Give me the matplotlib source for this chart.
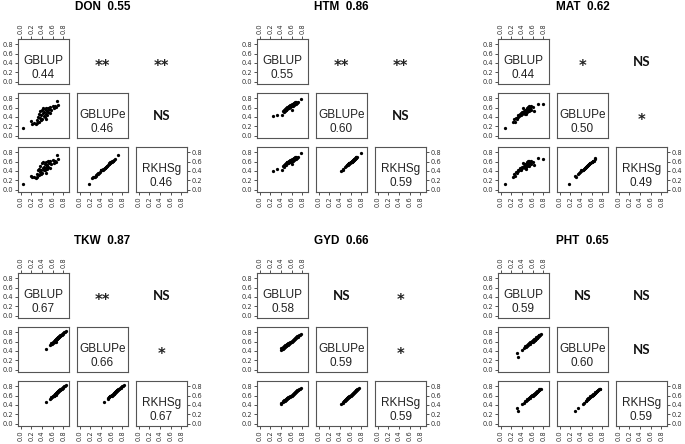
import numpy as np
import matplotlib
matplotlib.use('Agg')
import matplotlib.pyplot as plt

# traits, heritability and model names
traits = ['DON', 'HTM', 'MAT', 'TKW', 'GYD', 'PHT']
herit = [0.55, 0.86, 0.62, 0.87, 0.66, 0.65]
models = ['GBLUP', 'GBLUPe', 'RKHSg']

# mean accuracy per model (diagonal)
acc_mean = {
    'DON': [0.44, 0.46, 0.46],
    'HTM': [0.55, 0.60, 0.59],
    'MAT': [0.44, 0.50, 0.49],
    'TKW': [0.67, 0.66, 0.67],
    'GYD': [0.58, 0.59, 0.59],
    'PHT': [0.59, 0.60, 0.59],
}

# significance of pairwise tests: (GBLUP,GBLUPe), (GBLUP,RKHSg), (GBLUPe,RKHSg)
signif = {
    'DON': ['**', '**', 'NS'],
    'HTM': ['**', '**', 'NS'],
    'MAT': ['*', 'NS', '*'],
    'TKW': ['**', 'NS', '*'],
    'GYD': ['NS', '*', '*'],
    'PHT': ['NS', 'NS', 'NS'],
}

# accuracies per replicate
don_gblup = [0.05, 0.20, 0.22, 0.25, 0.28, 0.30, 0.31, 0.33, 0.34, 0.35, 0.36, 0.37, 0.38, 0.39, 0.40, 0.41, 0.42, 0.42, 0.43, 0.44,
             0.45, 0.46, 0.47, 0.48, 0.49, 0.50, 0.51, 0.52, 0.53, 0.55, 0.56, 0.58, 0.60, 0.62, 0.64, 0.66, 0.68, 0.70, 0.47, 0.50]
don_gblupe = [0.17, 0.31, 0.25, 0.28, 0.24, 0.34, 0.27, 0.40, 0.30, 0.46, 0.38, 0.52, 0.33, 0.44, 0.55, 0.36, 0.48, 0.58, 0.42, 0.50,
              0.56, 0.40, 0.59, 0.47, 0.53, 0.44, 0.60, 0.50, 0.57, 0.48, 0.62, 0.55, 0.64, 0.58, 0.63, 0.61, 0.73, 0.66, 0.35, 0.52]
don_rkhsg = [0.13, 0.30, 0.26, 0.27, 0.25, 0.33, 0.28, 0.41, 0.31, 0.45, 0.37, 0.51, 0.34, 0.43, 0.56, 0.36, 0.47, 0.59, 0.41, 0.49,
             0.55, 0.41, 0.58, 0.46, 0.52, 0.45, 0.61, 0.49, 0.56, 0.47, 0.61, 0.54, 0.63, 0.57, 0.62, 0.60, 0.75, 0.65, 0.36, 0.51]

htm_gblup = [0.25, 0.33, 0.42, 0.44, 0.45, 0.46, 0.47, 0.48, 0.49, 0.50, 0.50, 0.51, 0.52, 0.52, 0.53, 0.54, 0.54, 0.55, 0.56, 0.56,
             0.57, 0.58, 0.58, 0.59, 0.60, 0.60, 0.61, 0.62, 0.62, 0.63, 0.64, 0.64, 0.65, 0.66, 0.67, 0.68, 0.69, 0.70, 0.72, 0.78]
htm_gblupe = [0.42, 0.45, 0.45, 0.52, 0.50, 0.55, 0.53, 0.57, 0.54, 0.58, 0.55, 0.60, 0.57, 0.61, 0.58, 0.62, 0.59, 0.63, 0.60, 0.64,
              0.61, 0.65, 0.62, 0.66, 0.55, 0.64, 0.67, 0.63, 0.68, 0.65, 0.69, 0.66, 0.70, 0.67, 0.71, 0.68, 0.72, 0.70, 0.71, 0.79]
htm_rkhsg = [0.39, 0.44, 0.43, 0.50, 0.49, 0.53, 0.52, 0.55, 0.53, 0.56, 0.54, 0.58, 0.56, 0.59, 0.57, 0.60, 0.57, 0.61, 0.59, 0.62,
             0.60, 0.63, 0.60, 0.64, 0.54, 0.62, 0.65, 0.61, 0.66, 0.63, 0.67, 0.64, 0.68, 0.65, 0.69, 0.66, 0.70, 0.68, 0.69, 0.79]

mat_gblup = [0.08, 0.24, 0.26, 0.27, 0.29, 0.30, 0.32, 0.33, 0.35, 0.36, 0.37, 0.38, 0.39, 0.40, 0.41, 0.42, 0.43, 0.44, 0.45, 0.46,
             0.47, 0.48, 0.49, 0.50, 0.50, 0.51, 0.52, 0.53, 0.53, 0.54, 0.55, 0.56, 0.57, 0.58, 0.60, 0.62, 0.70, 0.79, 0.45, 0.48]
mat_gblupe = [0.17, 0.30, 0.35, 0.29, 0.38, 0.36, 0.40, 0.44, 0.41, 0.47, 0.45, 0.48, 0.43, 0.50, 0.47, 0.58, 0.49, 0.52, 0.47, 0.55,
              0.50, 0.53, 0.60, 0.51, 0.56, 0.62, 0.54, 0.58, 0.64, 0.52, 0.60, 0.57, 0.63, 0.55, 0.61, 0.53, 0.67, 0.67, 0.51, 0.46]
mat_rkhsg = [0.12, 0.28, 0.34, 0.29, 0.37, 0.35, 0.40, 0.43, 0.41, 0.46, 0.44, 0.47, 0.43, 0.49, 0.46, 0.57, 0.48, 0.51, 0.46, 0.54,
             0.49, 0.52, 0.59, 0.50, 0.55, 0.61, 0.53, 0.57, 0.62, 0.51, 0.59, 0.56, 0.61, 0.54, 0.60, 0.52, 0.67, 0.65, 0.50, 0.45]

tkw_gblup = [0.48, 0.55, 0.57, 0.58, 0.59, 0.60, 0.61, 0.62, 0.62, 0.63, 0.64, 0.64, 0.65, 0.65, 0.66, 0.66, 0.67, 0.67, 0.68, 0.68,
             0.69, 0.69, 0.70, 0.70, 0.71, 0.71, 0.72, 0.72, 0.73, 0.74, 0.74, 0.75, 0.76, 0.77, 0.78, 0.79, 0.80, 0.82, 0.84, 0.85]
tkw_gblupe = [0.45, 0.53, 0.54, 0.56, 0.55, 0.58, 0.57, 0.60, 0.58, 0.61, 0.60, 0.63, 0.62, 0.64, 0.60, 0.65, 0.64, 0.66, 0.65, 0.67,
              0.66, 0.68, 0.67, 0.69, 0.68, 0.70, 0.69, 0.71, 0.70, 0.72, 0.71, 0.73, 0.74, 0.74, 0.76, 0.77, 0.78, 0.80, 0.81, 0.83]
tkw_rkhsg = [0.46, 0.53, 0.55, 0.56, 0.56, 0.58, 0.58, 0.60, 0.59, 0.61, 0.61, 0.63, 0.62, 0.64, 0.61, 0.65, 0.64, 0.66, 0.66, 0.67,
             0.67, 0.68, 0.68, 0.69, 0.69, 0.70, 0.70, 0.71, 0.71, 0.72, 0.72, 0.73, 0.74, 0.75, 0.76, 0.77, 0.78, 0.80, 0.81, 0.83]

gyd_gblup = [0.40, 0.41, 0.43, 0.44, 0.45, 0.46, 0.47, 0.48, 0.49, 0.50, 0.50, 0.51, 0.52, 0.52, 0.53, 0.53, 0.54, 0.55, 0.55, 0.56,
             0.57, 0.58, 0.59, 0.60, 0.61, 0.62, 0.63, 0.64, 0.65, 0.66, 0.67, 0.68, 0.69, 0.70, 0.71, 0.72, 0.73, 0.74, 0.76, 0.78]
gyd_gblupe = [0.42, 0.46, 0.45, 0.48, 0.47, 0.50, 0.49, 0.52, 0.50, 0.53, 0.51, 0.54, 0.52, 0.55, 0.53, 0.56, 0.54, 0.57, 0.55, 0.57,
              0.56, 0.58, 0.60, 0.59, 0.62, 0.61, 0.64, 0.63, 0.66, 0.65, 0.68, 0.67, 0.70, 0.69, 0.71, 0.70, 0.72, 0.73, 0.74, 0.76]
gyd_rkhsg = [0.43, 0.45, 0.46, 0.48, 0.48, 0.50, 0.49, 0.51, 0.51, 0.53, 0.52, 0.54, 0.53, 0.55, 0.54, 0.56, 0.55, 0.56, 0.56, 0.57,
             0.57, 0.58, 0.60, 0.60, 0.62, 0.62, 0.64, 0.63, 0.66, 0.66, 0.68, 0.67, 0.70, 0.70, 0.71, 0.71, 0.72, 0.74, 0.75, 0.77]

pht_gblup = [0.30, 0.33, 0.40, 0.44, 0.46, 0.48, 0.49, 0.50, 0.51, 0.52, 0.53, 0.54, 0.55, 0.55, 0.56, 0.57, 0.58, 0.59, 0.60, 0.60,
             0.61, 0.62, 0.63, 0.63, 0.64, 0.65, 0.65, 0.66, 0.67, 0.67, 0.68, 0.69, 0.69, 0.70, 0.71, 0.72, 0.72, 0.73, 0.74, 0.75]
pht_gblupe = [0.35, 0.28, 0.43, 0.46, 0.50, 0.49, 0.52, 0.51, 0.54, 0.53, 0.55, 0.56, 0.54, 0.58, 0.57, 0.59, 0.58, 0.62, 0.60, 0.63,
              0.61, 0.64, 0.62, 0.65, 0.64, 0.66, 0.63, 0.67, 0.66, 0.69, 0.68, 0.70, 0.67, 0.71, 0.70, 0.72, 0.74, 0.73, 0.75, 0.76]
pht_rkhsg = [0.34, 0.28, 0.43, 0.45, 0.49, 0.48, 0.52, 0.51, 0.53, 0.53, 0.55, 0.55, 0.54, 0.57, 0.57, 0.58, 0.58, 0.61, 0.60, 0.62,
             0.61, 0.63, 0.62, 0.64, 0.64, 0.65, 0.63, 0.66, 0.66, 0.68, 0.68, 0.69, 0.67, 0.70, 0.70, 0.71, 0.73, 0.72, 0.74, 0.75]

acc = {
    'DON': [don_gblup, don_gblupe, don_rkhsg],
    'HTM': [htm_gblup, htm_gblupe, htm_rkhsg],
    'MAT': [mat_gblup, mat_gblupe, mat_rkhsg],
    'TKW': [tkw_gblup, tkw_gblupe, tkw_rkhsg],
    'GYD': [gyd_gblup, gyd_gblupe, gyd_rkhsg],
    'PHT': [pht_gblup, pht_gblupe, pht_rkhsg],
}

W, H = 685, 444
ticks = [0.0, 0.2, 0.4, 0.6, 0.8]
lims = (-0.05, 0.91)
frame_col = '#555555'
tick_col = '#333333'


def px_axes(fig, x, y, w, h):
    # add axes using pixel coords from top-left corner
    return fig.add_axes([x / W, 1 - (y + h) / H, w / W, h / H])


def draw_pairs(fig, x0, y0, trait, h2):
    cw, ch = 51, 45   # cell size in px
    px, py = 59, 54   # cell pitch in px
    vals = acc[trait]
    sig = signif[trait]
    k = 0
    for i in range(3):
        for j in range(3):
            ax = px_axes(fig, x0 + j * px, y0 + i * py, cw, ch)
            ax.set_xlim(lims)
            ax.set_ylim(lims)
            ax.set_xticks(ticks)
            ax.set_yticks(ticks)
            ax.tick_params(length=2.2, width=0.6, color=tick_col, labelcolor=tick_col,
                           labelsize=4.8, pad=1.2,
                           bottom=False, labelbottom=False, left=False, labelleft=False)
            ax.xaxis.set_major_formatter(matplotlib.ticker.FormatStrFormatter('%.1f'))
            ax.yaxis.set_major_formatter(matplotlib.ticker.FormatStrFormatter('%.1f'))
            for s in ax.spines.values():
                s.set_color(frame_col)
                s.set_linewidth(0.8)

            if j > i:
                # upper triangle: significance only
                ax.axis('off')
                if '*' in sig[k]:
                    ax.text(0.5, 0.40, sig[k], transform=ax.transAxes, ha='center', va='center',
                            fontsize=10.5, fontweight='bold', family='DejaVu Sans', color='#222222')
                else:
                    ax.text(0.5, 0.5, sig[k], transform=ax.transAxes, ha='center', va='center',
                            fontsize=9.5, fontweight='bold', family='Lato', color='#111111')
                k += 1
                continue

            if i == j:
                ax.text(0.5, 0.52, models[i], transform=ax.transAxes, ha='center', va='center',
                        fontsize=8.5, family='Liberation Sans', color='#222222')
                ax.text(0.5, 0.21, '%.2f' % acc_mean[trait][i], transform=ax.transAxes,
                        ha='center', va='center', fontsize=8.5, family='Liberation Sans', color='#222222')
            else:
                ax.scatter(vals[j], vals[i], s=5.5, c='black', linewidths=0)

            if j == 0:
                ax.tick_params(left=True, labelleft=True)
            if i == 2:
                ax.tick_params(axis='x', bottom=True, labelbottom=True, labelrotation=90)
            if i == 0 and j == 0:
                ax.tick_params(axis='x', top=True, labeltop=True, labelrotation=90)
            if i == 2 and j == 2:
                ax.tick_params(axis='y', right=True, labelright=True)

    # title centred on middle column
    fig.text((x0 + px + cw / 2) / W, 1 - (y0 - 32) / H, '%s  %.2f' % (trait, h2),
             ha='center', va='center', fontsize=8.5, fontweight='bold', family='Liberation Sans')


fig = plt.figure(figsize=(W / 100, H / 100), dpi=100)

x_off = [18, 257, 498]
y_off = [39, 273]
for n, tr in enumerate(traits):
    draw_pairs(fig, x_off[n % 3], y_off[n // 3], tr, herit[n])

fig.savefig('out.png', dpi=100)
